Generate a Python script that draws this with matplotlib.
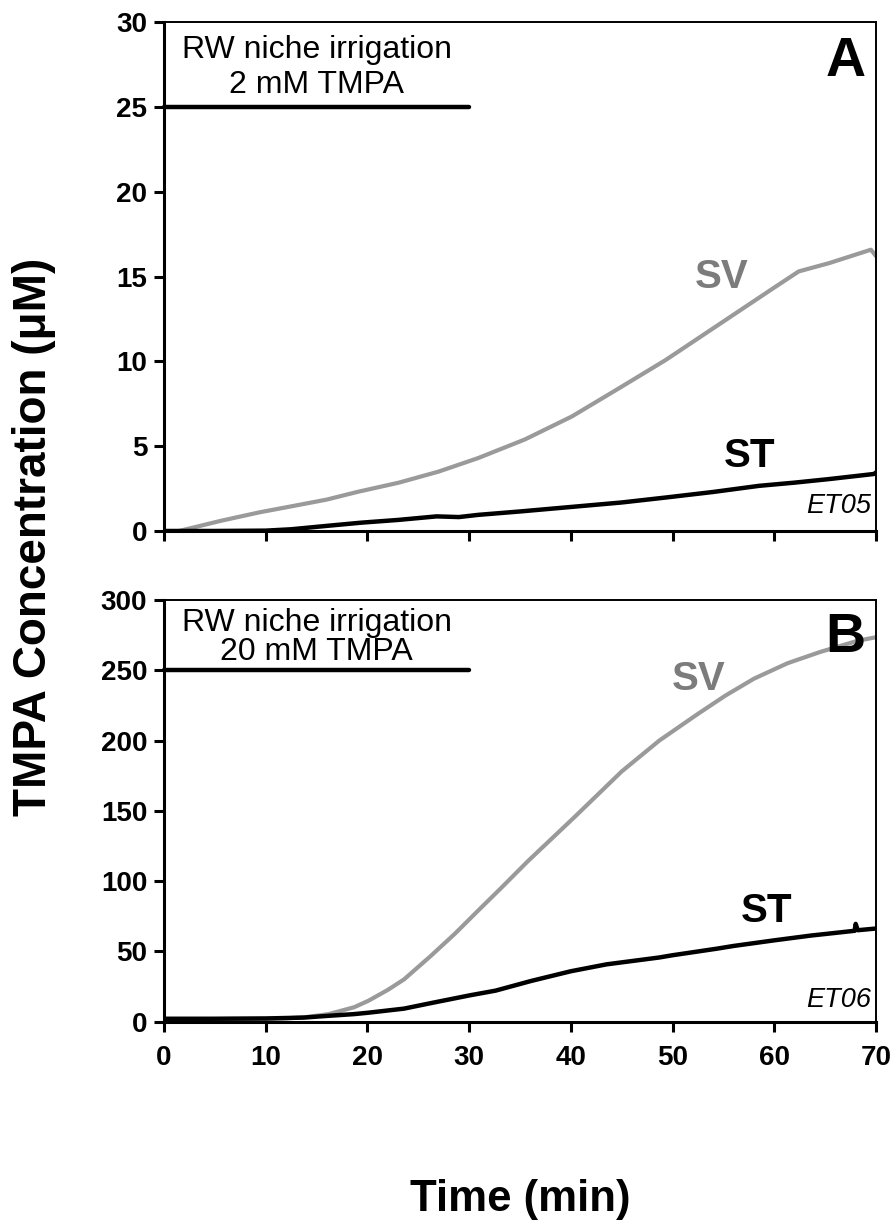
#Importamos las librerias que utilizaremos
import matplotlib
matplotlib.use('Agg')
import matplotlib.pyplot as plt # Libreria para graficar
import numpy as np # Libreria para hacer operaciones matematicas

plt.rcParams['font.family'] = ['Liberation Sans', 'DejaVu Sans']

# Panel A: irrigacion con 2 mM TMPA (ET05)
tiempo_sv_a = [1.5, 5.6, 9.4, 12.5, 16.0, 19.0, 23.1, 27.0, 30.9, 35.5, 40.1, 44.7,
               49.3, 53.0, 56.7, 59.9, 62.4, 65.4, 69.5, 70.0]
sv_a = [0, 0.6, 1.1, 1.45, 1.85, 2.3, 2.85, 3.5, 4.3, 5.4, 6.75, 8.4,
        10.07, 11.55, 13.03, 14.31, 15.30, 15.79, 16.58, 16.2]

tiempo_st_a = [0, 5, 10, 12.5, 16, 19.4, 23, 26.8, 29, 30.9, 35, 40.1, 45, 49.3,
               54, 58.5, 62, 65.4, 69.8, 70]
st_a = [0, 0, 0.02, 0.1, 0.3, 0.49, 0.65, 0.86, 0.82, 0.95, 1.15, 1.42, 1.68, 1.97,
        2.3, 2.66, 2.85, 3.06, 3.36, 3.45]

# Panel B: irrigacion con 20 mM TMPA (ET06)
tiempo_sv_b = [0, 5, 10, 12, 14, 16.2, 18.7, 20.1, 22, 23.6, 26.2, 28.6, 31.1, 33,
               35.8, 40.4, 45.0, 48.7, 52.5, 55.2, 58.0, 61.3, 64.5, 68.2, 70]
sv_b = [1.5, 1.8, 2.0, 2.3, 3.2, 5.3, 10.2, 14.8, 22.5, 30.0, 46.5, 62.5, 80.5, 94,
        114.3, 145.8, 178.0, 200.0, 219.0, 232.0, 244.0, 255.0, 263.0, 271.0, 273.5]

tiempo_st_b = [0, 5, 10, 13.7, 16, 18.7, 20.1, 23.6, 26.5, 30.1, 32.6, 36.1, 40, 43.5,
               48.7, 50, 54.3, 56, 59, 60, 63.6, 65, 67.9, 68.0, 68.2, 70]
st_b = [2.0, 2.0, 2.2, 2.8, 4.0, 5.3, 6.3, 9.2, 13.5, 18.7, 22, 28.9, 35.8, 40.7,
        45.6, 47.2, 51.8, 53.8, 56.8, 57.8, 61.2, 62.3, 64.6, 69.5, 65.0, 66.2]

# Duracion de la irrigacion (min) y nivel donde se dibuja la barra
irrigacion_a = [0, 30]
nivel_a = 25
irrigacion_b = [0, 30]
nivel_b = 250

color_sv = '#9a9a9a' # gris de la linea SV
color_sv_texto = '#7c7c7c' # gris de la etiqueta SV


def formato(ax, ymax, paso):
    ax.set_xlim(0, 70)
    ax.set_ylim(0, ymax)
    ax.set_xticks(np.arange(0, 71, 10))
    ax.set_yticks(np.arange(0, ymax + 1, paso))
    for lado in ['left', 'bottom']:
        ax.spines[lado].set_linewidth(2.2)
    for lado in ['top', 'right']:
        ax.spines[lado].set_linewidth(1.4)
    ax.tick_params(direction='out', length=7, width=2.2, labelsize=20, pad=5)
    for t in ax.get_yticklabels() + ax.get_xticklabels():
        t.set_fontweight('bold')


def panel(ax, tsv, sv, tst, st, irr, nivel, ymax, paso, letra, dosis, codigo,
          pos_sv, pos_st):
    ax.plot(tsv, sv, color=color_sv, lw=3.0, solid_capstyle='round')
    ax.plot(tst, st, color='black', lw=3.2, solid_capstyle='round')
    ax.plot(irr, [nivel, nivel], color='black', lw=3.2, solid_capstyle='round',
            clip_on=False)
    formato(ax, ymax, paso)
    ax.text(15, ymax * 0.945, 'RW niche irrigation', ha='center', va='center',
            fontsize=23)
    ax.text(15, ymax * 0.877, dosis, ha='center', va='center', fontsize=23)
    ax.text(0.985, 0.972, letra, transform=ax.transAxes, ha='right', va='top',
            fontsize=40, fontweight='bold')
    ax.text(pos_sv[0], pos_sv[1], 'SV', ha='center', va='center', fontsize=29,
            fontweight='bold', color=color_sv_texto)
    ax.text(pos_st[0], pos_st[1], 'ST', ha='center', va='center', fontsize=29,
            fontweight='bold', color='black')
    ax.text(0.993, 0.05, codigo, transform=ax.transAxes, ha='right', va='center',
            fontsize=19.5, style='italic')


def graficar():
    fig = plt.figure(figsize=(8.95, 12.24), dpi=100)
    ax_a = fig.add_axes([0.1832, 0.5662, 0.7956, 0.4158])
    ax_b = fig.add_axes([0.1832, 0.1654, 0.7956, 0.3444])

    panel(ax_a, tiempo_sv_a, sv_a, tiempo_st_a, st_a, irrigacion_a, nivel_a,
          30, 5, 'A', '2 mM TMPA', 'ET05', (54.8, 15.0), (57.6, 4.4))
    ax_a.set_xticklabels([])

    panel(ax_b, tiempo_sv_b, sv_b, tiempo_st_b, st_b, irrigacion_b, nivel_b,
          300, 50, 'B', '20 mM TMPA', 'ET06', (52.6, 244), (59.2, 78.6))
    ax_b.tick_params(axis='x', pad=10)

    fig.text(0.581, 0.020, 'Time (min)', ha='center', va='center', fontsize=31.5,
             fontweight='bold')
    fig.text(0.038, 0.561, 'TMPA Concentration (\u03bcM)', ha='center', va='center',
             fontsize=33, fontweight='bold', rotation=90)

    fig.savefig('out.png', dpi=100)


if __name__ == '__main__':
    graficar()
